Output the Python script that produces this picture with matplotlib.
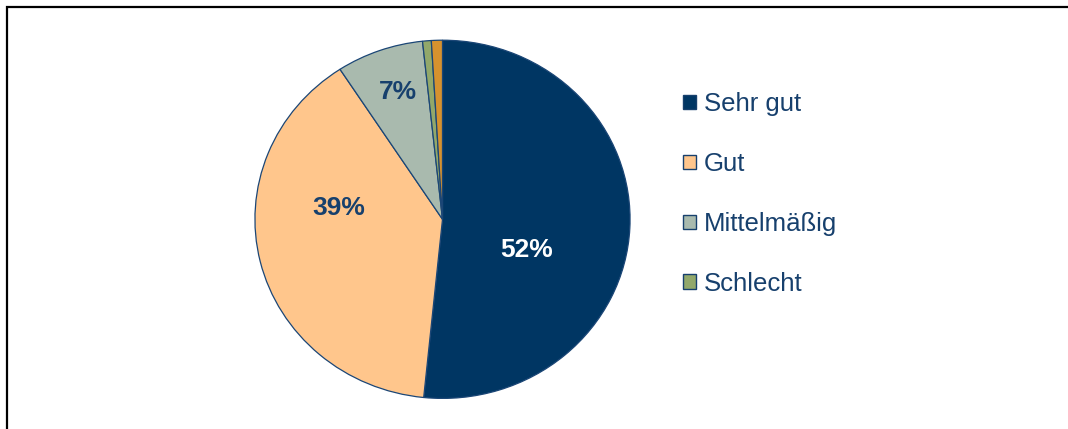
import matplotlib
matplotlib.use('Agg')
import matplotlib.pyplot as plt
from matplotlib.patches import Patch, Rectangle

# data (clockwise from 12 o'clock)
categories = ['Sehr gut', 'Gut', 'Mittelmäßig', 'Schlecht', 'Keine Angabe']
shares = [51.6, 39.2, 7.5, 0.75, 0.95]
colors = ['#003663', '#FFC68C', '#A9BAAE', '#92A86A', '#D6922E']
label_texts = ['52%', '39%', '7%', '', '']
label_colors = ['white', '#17406D', '#17406D', '#17406D', '#17406D']
# label anchor points in pie coordinates (Excel "best fit" placement)
label_pos = [(0.448, -0.17), (-0.554, 0.063), (-0.236, 0.713), None, None]
legend_items = 4

plt.rcParams['font.family'] = ['Liberation Sans', 'DejaVu Sans']
navy = '#17406D'

fig = plt.figure(figsize=(10.68, 4.29), dpi=100)
W, H = 1068, 429

# pie is drawn slightly wider than tall, as in the original
cx, cy, rx, ry = 442.5, 219.3, 188.5, 180.0
ax = fig.add_axes([(cx - rx) / W, (H - cy - ry) / H, 2 * rx / W, 2 * ry / H])
wedges, _ = ax.pie(shares, colors=colors, startangle=90, counterclock=False,
                   radius=1.0, wedgeprops=dict(edgecolor='#1B4676', linewidth=0.9))
ax.set_aspect('auto')
ax.set_xlim(-1.005, 1.005)
ax.set_ylim(-1.005, 1.005)
ax.axis('off')

for txt, pos, col in zip(label_texts, label_pos, label_colors):
    if not txt:
        continue
    ax.text(pos[0], pos[1], txt, ha='center', va='center', fontsize=19,
            fontweight='bold', color=col)

handles = [Patch(facecolor=c, edgecolor=navy, linewidth=1.0)
           for c in colors[:legend_items]]
leg = fig.legend(handles, categories[:legend_items], loc='upper left',
                 bbox_to_anchor=(683 / W, 1 - 92 / H), frameon=False,
                 fontsize=18.5, handlelength=0.5, handleheight=0.5,
                 handletextpad=0.3, labelspacing=1.4, borderpad=0,
                 borderaxespad=0)
for t in leg.get_texts():
    t.set_color(navy)

# outer frame: only top and left edges are visible in the crop
fig.patches.append(Rectangle((7 / W, -0.1), 1.2, (H - 7) / H + 0.1,
                             transform=fig.transFigure, fill=False,
                             edgecolor='black', linewidth=1.6))

fig.savefig('out.png', dpi=100)
